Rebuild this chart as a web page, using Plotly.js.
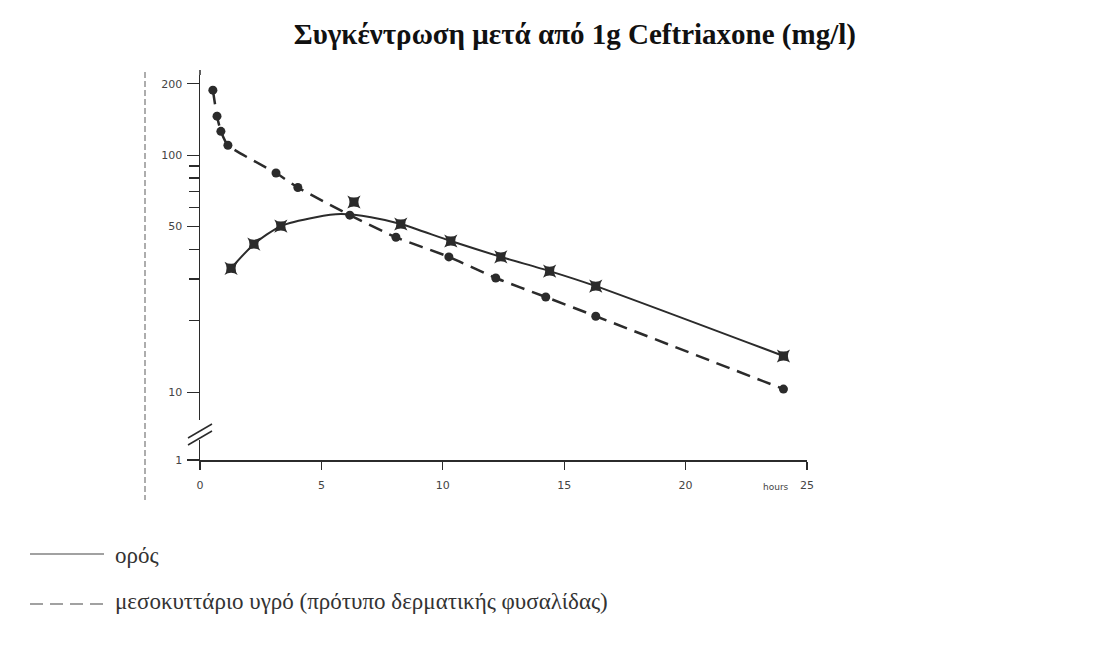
<!DOCTYPE html>
<html>
<head>
<meta charset="utf-8">
<script src="https://cdn.plot.ly/plotly-3.0.1.min.js"></script>
<style>html,body{margin:0;padding:0;background:#fff;}#chart{width:1114px;height:647px;}</style>
</head>
<body>
<div id="chart"></div>
<script>
// ---- data ----
const chartTitle = 'Συγκέντρωση μετά από 1g Ceftriaxone (mg/l)';
const seriesNames = ['ορός', 'μεσοκυττάριο υγρό (πρότυπο δερματικής φυσαλίδας)'];
const axisUnit = 'hours';

// serum (solid line, square-star markers)
const serumHours  = [1.28, 2.22, 3.33, 6.34, 8.27, 10.33, 12.39, 14.4, 16.3, 24.03];
const serumValues = [33.3, 42.1, 50.2, 63.4, 51.2, 43.4, 37.2, 32.4, 28.0, 14.2];
// fitted serum curve as drawn
const serumCurveHours  = [1.28, 2.22, 3.33, 4.77, 5.8, 7.04, 8.27, 10.33, 12.39, 14.4, 16.3, 24.03];
const serumCurveValues = [33.3, 42.1, 50.2, 54.7, 56.4, 54.7, 51.2, 43.4, 37.2, 32.4, 28.0, 14.2];

// interstitial fluid (dashed line, circle markers)
const fluidHours  = [0.53, 0.70, 0.86, 1.15, 3.13, 4.03, 6.17, 8.07, 10.25, 12.18, 14.24, 16.3, 24.03];
const fluidValues = [188, 146, 126, 110, 84, 73, 55.8, 45, 37.2, 30.3, 25.2, 20.9, 10.3];

// axis ticks
const xTickVals = [0, 5, 10, 15, 20, 25];
const xTickText = ['0', '5', '10', '15', '20', '25'];
const yBreakValue = 5.17; // position where the broken axis shows "1"
const yTickVals = [yBreakValue, 10, 50, 100, 200];
const yTickText = ['1', '10', '50', '100', '200'];
const yMinorVals = [20, 30, 40, 60, 70, 80, 90];

// ---- layout geometry ----
const L = 200, T = 75, W = 607, H = 385;
function px(x){ return (x - L) / W; }
function py(y){ return (T + H - y) / H; }

const ink = '#2b2b2b';
const serif = '"Liberation Serif", "DejaVu Serif", serif';

const traces = [
  { x: serumCurveHours, y: serumCurveValues, mode: 'lines', type: 'scatter',
    line: { color: ink, width: 2, shape: 'spline', smoothing: 0.7 }, hoverinfo: 'skip', cliponaxis: false },
  { x: serumHours, y: serumValues, mode: 'markers', type: 'scatter', name: seriesNames[0],
    marker: { symbol: 'star-square', size: 12, color: ink }, cliponaxis: false },
  { x: fluidHours, y: fluidValues, mode: 'lines+markers', type: 'scatter', name: seriesNames[1],
    line: { color: ink, width: 2.5, dash: '14px,8px', shape: 'spline', smoothing: 0.5 },
    marker: { symbol: 'circle', size: 9, color: ink }, cliponaxis: false }
];

const shapes = [
  { type: 'rect', xref: 'paper', yref: 'paper', x0: px(196), x1: px(208), y0: py(440), y1: py(420),
    fillcolor: '#fff', line: { width: 0 }, layer: 'above' },
  { type: 'line', xref: 'paper', yref: 'paper', x0: px(188), y0: py(438), x1: px(212), y1: py(424),
    line: { color: ink, width: 1.5 }, layer: 'above' },
  { type: 'line', xref: 'paper', yref: 'paper', x0: px(188), y0: py(445), x1: px(212), y1: py(431),
    line: { color: ink, width: 1.5 }, layer: 'above' },
  { type: 'line', xref: 'paper', yref: 'paper', x0: px(200), y0: py(460), x1: px(200), y1: py(470),
    line: { color: ink, width: 1.5 } },
  { type: 'line', xref: 'paper', yref: 'paper', x0: px(200), y0: py(75), x1: px(200), y1: py(70),
    line: { color: ink, width: 1.5 } },
  { type: 'line', xref: 'paper', yref: 'paper', x0: px(145), y0: py(72), x1: px(145), y1: py(500),
    line: { color: '#777', width: 1.2, dash: '6px,3px' } },
  { type: 'line', xref: 'paper', yref: 'paper', x0: px(30), y0: py(554), x1: px(104), y1: py(554),
    line: { color: '#444', width: 1.2 } },
  { type: 'line', xref: 'paper', yref: 'paper', x0: px(30), y0: py(604), x1: px(106), y1: py(604),
    line: { color: '#444', width: 1.2, dash: '13px,7px' } }
];

const annotations = [
  { xref: 'paper', yref: 'paper', x: px(113), y: py(555), xanchor: 'left', yanchor: 'middle',
    text: seriesNames[0], showarrow: false,
    font: { family: serif, size: 23, color: '#333' } },
  { xref: 'paper', yref: 'paper', x: px(113), y: py(601), xanchor: 'left', yanchor: 'middle',
    text: seriesNames[1], showarrow: false,
    font: { family: serif, size: 23, color: '#333' } },
  { xref: 'paper', yref: 'paper', x: px(791), y: py(487), xanchor: 'right', yanchor: 'middle',
    text: axisUnit, showarrow: false,
    font: { family: 'DejaVu Sans, sans-serif', size: 9, color: '#444' } }
];

const layout = {
  width: 1114, height: 647,
  margin: { l: L, r: 1114 - L - W, t: T, b: 647 - T - H, pad: 0 },
  paper_bgcolor: '#fff', plot_bgcolor: '#fff',
  showlegend: false,
  font: { family: serif },
  title: { text: '<b>' + chartTitle + '</b>', x: 0.516, xanchor: 'center', y: 0.948, yanchor: 'middle',
    font: { family: serif, size: 29, color: '#111' } },
  xaxis: {
    range: [0, 25], showgrid: false, zeroline: false,
    showline: true, linecolor: ink, linewidth: 1.5,
    ticks: 'outside', ticklen: 8, tickwidth: 1.2, tickcolor: ink,
    tickmode: 'array', tickvals: xTickVals, ticktext: xTickText,
    ticklabelstandoff: 6,
    tickfont: { family: 'DejaVu Sans, sans-serif', size: 11, color: '#444' }
  },
  yaxis: {
    type: 'log', range: [Math.log10(yBreakValue), 2.338], showgrid: false, zeroline: false,
    showline: true, linecolor: ink, linewidth: 1.5,
    ticks: 'outside', ticklen: 12, tickwidth: 1.2, tickcolor: ink,
    tickmode: 'array', tickvals: yTickVals, ticktext: yTickText,
    ticklabelstandoff: 2,
    tickfont: { family: 'DejaVu Sans, sans-serif', size: 11, color: '#444' },
    minor: { tickmode: 'array', tickvals: yMinorVals, ticks: 'outside', ticklen: 10, tickwidth: 1.2, tickcolor: ink, showgrid: false }
  },
  shapes: shapes,
  annotations: annotations
};

Plotly.newPlot('chart', traces, layout, { staticPlot: true, displayModeBar: false });
</script>
</body>
</html>
